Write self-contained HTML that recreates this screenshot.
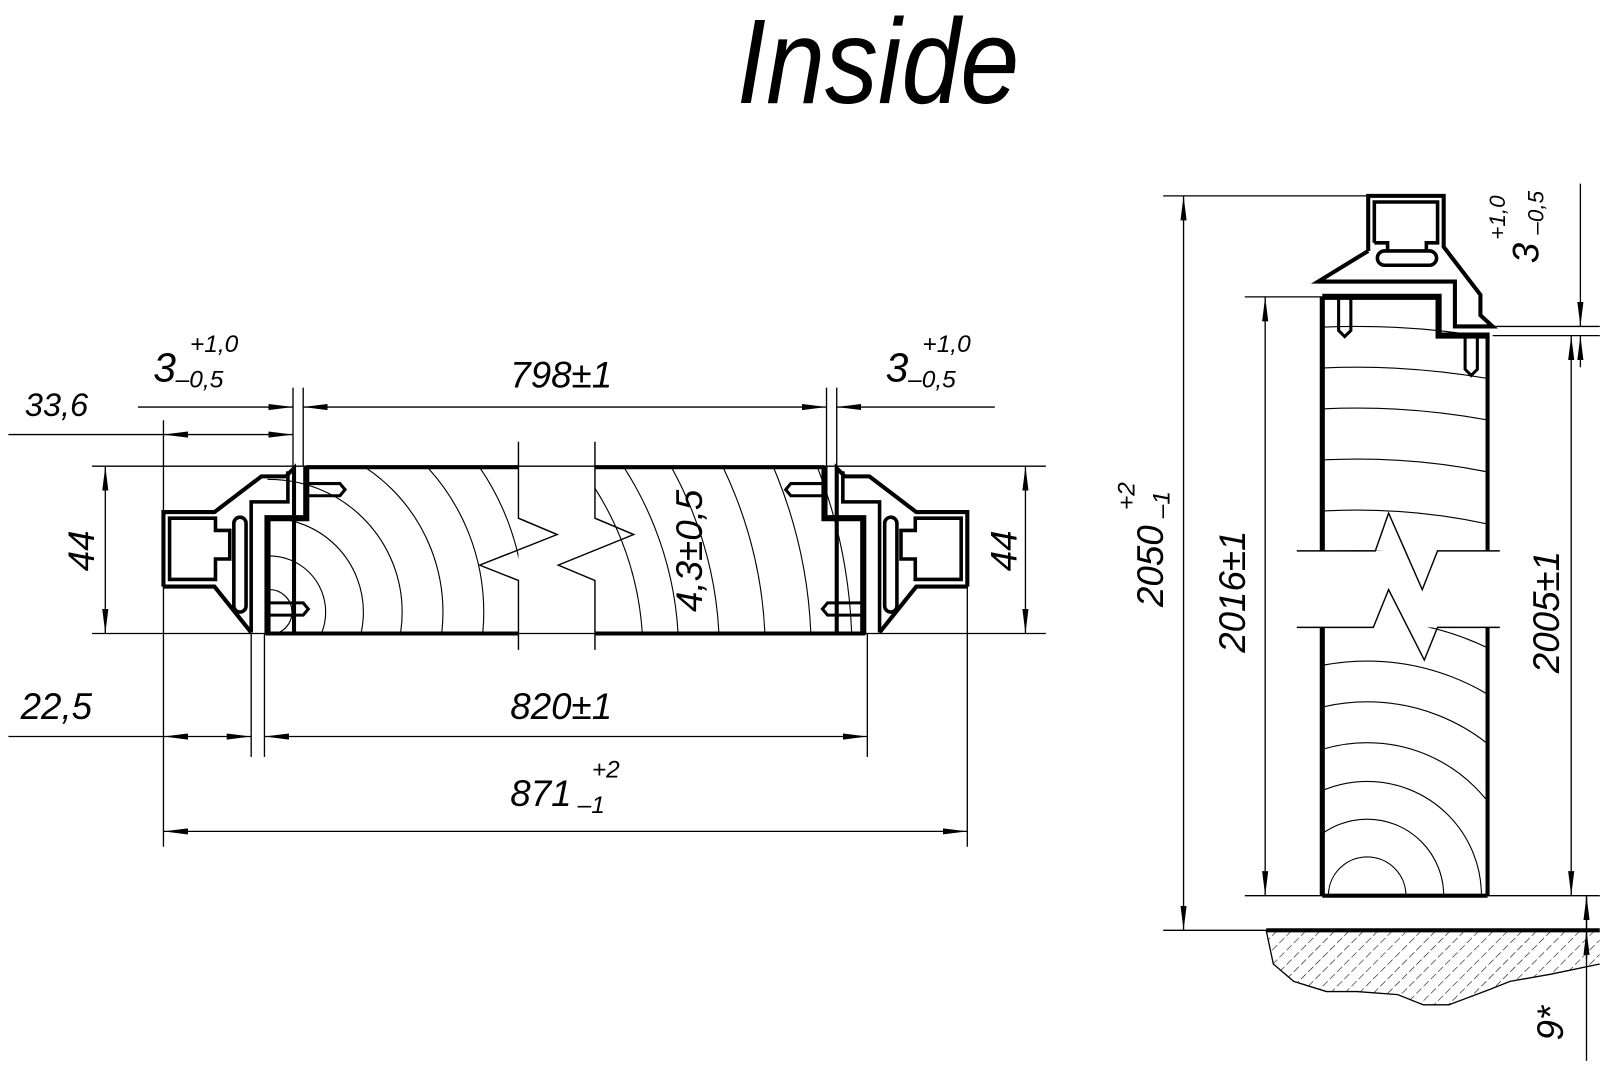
<!DOCTYPE html>
<html><head><meta charset="utf-8"><style>
html,body{margin:0;padding:0;background:#fff;width:1600px;height:1065px;overflow:hidden;}
svg{display:block;}
text{font-family:"Liberation Sans",sans-serif;font-style:italic;fill:#000;}
</style></head><body>
<svg width="1600" height="1065" viewBox="0 0 1568 1044" xmlns="http://www.w3.org/2000/svg">
<defs>
<marker id="a" viewBox="0 0 24 8" refX="24" refY="4" markerWidth="24" markerHeight="8" markerUnits="userSpaceOnUse" orient="auto-start-reverse">
<path d="M0,1 L24,4 L0,7 Z" fill="#000"/></marker>
<clipPath id="cl1"><rect x="262" y="459" width="246" height="160"/></clipPath>
<clipPath id="cl2"><rect x="583" y="459" width="264" height="160"/></clipPath>
<clipPath id="cr1"><rect x="1298" y="293" width="158" height="247"/></clipPath>
<clipPath id="cr2"><rect x="1298" y="615" width="158" height="261"/></clipPath>
<clipPath id="fl"><path d="M1241,912 H1568 V945 L1520,955 L1480,962 L1460,970 L1420,985 L1395,985 L1370,975 L1330,972 L1300,972 L1268,962 L1248,945 Z"/></clipPath>
<pattern id="h" width="10" height="10" patternUnits="userSpaceOnUse" patternTransform="rotate(45)">
<line x1="0" y1="0" x2="0" y2="10" stroke="#000" stroke-width="1.1" stroke-dasharray="7,3"/></pattern>
</defs>

<text x="722" y="101" font-size="118" textLength="277" lengthAdjust="spacingAndGlyphs">Inside</text>

<g stroke="#000" fill="none" stroke-width="1.3">
<line x1="90" y1="457" x2="1025" y2="457"/>
<line x1="90" y1="621" x2="1025" y2="621"/>
<line x1="160" y1="412" x2="160" y2="830"/>
<line x1="948" y1="500" x2="948" y2="830"/>
<line x1="287" y1="380" x2="287" y2="457"/>
<line x1="297" y1="380" x2="297" y2="457"/>
<line x1="810" y1="380" x2="810" y2="457"/>
<line x1="820" y1="380" x2="820" y2="457"/>
<line x1="246" y1="621" x2="246" y2="742"/>
<line x1="259" y1="621" x2="259" y2="742"/>
<line x1="850" y1="621" x2="850" y2="742"/>
</g>
<g stroke="#000" stroke-width="1.3" fill="none">
<line x1="135" y1="399" x2="287" y2="399" marker-end="url(#a)"/>
<line x1="297" y1="399" x2="810" y2="399" marker-start="url(#a)" marker-end="url(#a)"/>
<line x1="820" y1="399" x2="975" y2="399" marker-start="url(#a)"/>
<line x1="8" y1="426" x2="160" y2="426"/>
<line x1="160" y1="426" x2="287" y2="426" marker-start="url(#a)" marker-end="url(#a)"/>
<line x1="103" y1="457" x2="103" y2="621" marker-start="url(#a)" marker-end="url(#a)"/>
<line x1="1005" y1="457" x2="1005" y2="621" marker-start="url(#a)" marker-end="url(#a)"/>
<line x1="8" y1="722" x2="160" y2="722"/>
<line x1="160" y1="722" x2="246" y2="722" marker-start="url(#a)" marker-end="url(#a)"/>
<line x1="259" y1="722" x2="850" y2="722" marker-start="url(#a)" marker-end="url(#a)"/>
<line x1="160" y1="815" x2="948" y2="815" marker-start="url(#a)" marker-end="url(#a)"/>
</g>

<g stroke="#000" stroke-width="1.1" fill="none" clip-path="url(#cl1)">
<circle cx="264" cy="600" r="22"/><circle cx="264" cy="600" r="55"/><circle cx="264" cy="600" r="92"/>
<circle cx="264" cy="600" r="130"/><circle cx="264" cy="600" r="170"/><circle cx="264" cy="600" r="210"/>
<circle cx="264" cy="600" r="250"/><circle cx="264" cy="600" r="290"/>
</g>
<g stroke="#000" stroke-width="1.1" fill="none" clip-path="url(#cl2)">
<circle cx="330" cy="640" r="300"/><circle cx="330" cy="640" r="335"/><circle cx="330" cy="640" r="375"/>
<circle cx="330" cy="640" r="420"/><circle cx="330" cy="640" r="465"/><circle cx="330" cy="640" r="505"/>
</g>
<g stroke="#000" fill="none">
<line x1="300" y1="458" x2="508" y2="458" stroke-width="4"/>
<line x1="260" y1="621" x2="508" y2="621" stroke-width="4"/>
<line x1="583" y1="458" x2="808" y2="458" stroke-width="4"/>
<line x1="583" y1="621" x2="848" y2="621" stroke-width="4"/>
<polyline stroke-width="1.4" points="508,433 508,508 546,524 470,554 508,569 508,637"/>
<polyline stroke-width="1.4" points="583,433 583,508 621,524 547,554 583,569 583,637"/>
</g>

<g id="prof" stroke="#000" fill="none" stroke-linejoin="miter">
<path d="M160,575 V502 H210 L256,467 H280 L288,459 V620" stroke-width="4"/>
<path d="M160,575 H210 L246,620" stroke-width="4"/>
<path d="M246,620 V492 H282 V462" stroke-width="3.5"/>
<path d="M166,508 H211 V520 H225 V548 H211 V568 H166 Z" stroke-width="3.5"/>
<rect x="229" y="507" width="12" height="93" rx="6" stroke-width="3.5"/>
<path d="M262,622 V508 H300 V457" stroke-width="6"/>
<path d="M302,474 H333 L338,480 L333,486 H302" stroke-width="3"/>
<path d="M264,591 H297 L302,597 L297,603 H264" stroke-width="3"/>
</g>
<use href="#prof" transform="translate(1108,0) scale(-1,1)"/>

<text x="24" y="408" font-size="32">33,6</text>
<text x="150" y="374" font-size="40">3</text>
<text x="186" y="345" font-size="24">+1,0</text>
<text x="172" y="380" font-size="24">–0,5</text>
<text x="868" y="374" font-size="40">3</text>
<text x="904" y="345" font-size="24">+1,0</text>
<text x="890" y="380" font-size="24">–0,5</text>
<text x="500" y="380" font-size="36">798±1</text>
<text x="20" y="705" font-size="36">22,5</text>
<text x="500" y="705" font-size="36">820±1</text>
<text x="500" y="790" font-size="36">871</text>
<text x="580" y="762" font-size="24">+2</text>
<text x="566" y="797" font-size="24">–1</text>
<text transform="translate(92,540) rotate(-90)" font-size="36" text-anchor="middle">44</text>
<text transform="translate(996,540) rotate(-90)" font-size="36" text-anchor="middle">44</text>
<text transform="translate(688,540) rotate(-90)" font-size="36" text-anchor="middle">4,3±0,5</text>

<g stroke="#000" stroke-width="1.3" fill="none">
<line x1="1140" y1="192" x2="1345" y2="192"/>
<line x1="1220" y1="291" x2="1298" y2="291"/>
<line x1="1220" y1="878" x2="1568" y2="878"/>
<line x1="1140" y1="912" x2="1241" y2="912"/>
<line x1="1463" y1="320" x2="1568" y2="320"/>
<line x1="1463" y1="329" x2="1568" y2="329"/>
<line x1="1160" y1="192" x2="1160" y2="912" marker-start="url(#a)" marker-end="url(#a)"/>
<line x1="1240" y1="291" x2="1240" y2="878" marker-start="url(#a)" marker-end="url(#a)"/>
<line x1="1540" y1="329" x2="1540" y2="878" marker-start="url(#a)" marker-end="url(#a)"/>
<line x1="1549" y1="180" x2="1549" y2="320" marker-end="url(#a)"/>
<line x1="1549" y1="329" x2="1549" y2="360" marker-start="url(#a)"/>
<line x1="1555" y1="878" x2="1555" y2="1040"/>
<line x1="1555" y1="912" x2="1555" y2="878" marker-end="url(#a)"/>
<line x1="1555" y1="940" x2="1555" y2="912" marker-end="url(#a)"/>
</g>
<g stroke="#000" stroke-width="1.1" fill="none" clip-path="url(#cr1)">
<circle cx="1330" cy="1100" r="780"/><circle cx="1330" cy="1100" r="740"/><circle cx="1330" cy="1100" r="700"/>
<circle cx="1330" cy="1100" r="650"/><circle cx="1330" cy="1100" r="600"/>
<circle cx="1330" cy="1100" r="560"/><circle cx="1330" cy="1100" r="520"/><circle cx="1330" cy="1100" r="480"/>
<circle cx="1330" cy="1100" r="440"/><circle cx="1330" cy="1100" r="400"/>
</g>
<g stroke="#000" stroke-width="1.1" fill="none" clip-path="url(#cr2)">
<circle cx="1340" cy="878" r="38"/><circle cx="1340" cy="878" r="75"/><circle cx="1340" cy="878" r="112"/>
<circle cx="1340" cy="878" r="150"/><circle cx="1340" cy="878" r="190"/><circle cx="1340" cy="878" r="230"/>
<circle cx="1340" cy="878" r="270"/><circle cx="1340" cy="878" r="310"/>
</g>
<g stroke="#000" fill="none">
<line x1="1296" y1="291" x2="1296" y2="540" stroke-width="5"/>
<line x1="1296" y1="615" x2="1296" y2="878" stroke-width="5"/>
<line x1="1296" y1="878" x2="1458" y2="878" stroke-width="4"/>
<line x1="1458" y1="329" x2="1458" y2="540" stroke-width="4"/>
<line x1="1458" y1="615" x2="1458" y2="878" stroke-width="4"/>
<path d="M1296,291 H1410 V329 H1460" stroke-width="6"/>
<polyline stroke-width="1.4" points="1271,540 1348,540 1361,503 1394,578 1409,540 1470,540"/>
<polyline stroke-width="1.4" points="1271,615 1346,615 1361,578 1396,647 1409,615 1470,615"/>
<path d="M1341,246 V192 H1415 V242 L1451,289 V309 L1463,320 H1426 V276 H1292 L1341,246" stroke-width="4"/>
<path d="M1347,238 V198 H1409 V238 H1398 V246 M1360,246 V238 H1347" stroke-width="3.5"/>
<rect x="1350" y="246" width="58" height="14" rx="7" stroke-width="3.5"/>
<path d="M1312,293 V324 L1318,330 L1324,324 V293" stroke-width="3"/>
<path d="M1436,331 V362 L1442,368 L1448,362 V331" stroke-width="3"/>
<line x1="1241" y1="912" x2="1568" y2="912" stroke-width="4"/>
<path d="M1241,912 L1248,945 L1268,962 L1300,972 L1330,972 L1370,975 L1395,985 L1420,985 L1460,970 L1480,962 L1520,955 L1568,945" stroke-width="1.3"/>
</g>
<rect x="1241" y="912" width="327" height="80" fill="url(#h)" clip-path="url(#fl)"/>

<text transform="translate(1140,555) rotate(-90)" font-size="36" text-anchor="middle">2050</text>
<text transform="translate(1112,500) rotate(-90)" font-size="24">+2</text>
<text transform="translate(1146,508) rotate(-90)" font-size="24">–1</text>
<text transform="translate(1220,580) rotate(-90)" font-size="36" text-anchor="middle">2016±1</text>
<text transform="translate(1528,600) rotate(-90)" font-size="36" text-anchor="middle">2005±1</text>
<text transform="translate(1508,258) rotate(-90)" font-size="36">3</text>
<text transform="translate(1475,235) rotate(-90)" font-size="22">+1,0</text>
<text transform="translate(1513,230) rotate(-90)" font-size="22">–0,5</text>
<text transform="translate(1532,1020) rotate(-90)" font-size="36">9*</text>
</svg>
</body></html>
